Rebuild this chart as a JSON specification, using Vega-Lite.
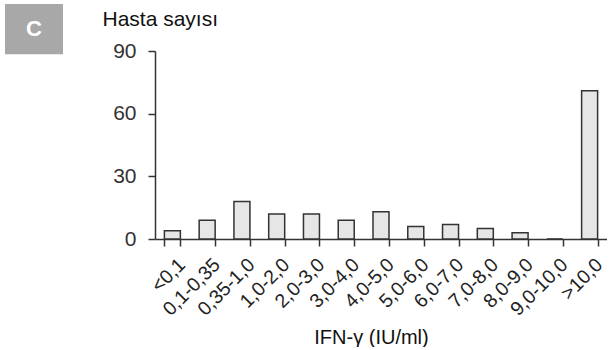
{
  "$schema": "https://vega.github.io/schema/vega-lite/v6.json",
  "padding": {"left": 5, "top": 4, "right": 0, "bottom": 0},
  "background": "white",
  "config": {
    "view": {"stroke": null},
    "font": "Liberation Sans",
    "concat": {"spacing": 39}
  },
  "hconcat": [
    {
      "width": 58,
      "height": 188,
      "data": {"values": [{"panel": "C"}]},
      "layer": [
        {
          "mark": {"type": "rect", "fill": "#a8a8a8", "clip": false},
          "encoding": {
            "y": {"datum": 88.5, "type": "quantitative", "scale": {"domain": [0, 90], "nice": false}, "axis": null},
            "y2": {"datum": 112.5}
          }
        },
        {
          "mark": {"type": "text", "color": "white", "fontSize": 22, "fontWeight": "bold", "font": "Liberation Sans", "baseline": "middle", "clip": false},
          "encoding": {
            "y": {"datum": 100.5, "type": "quantitative"},
            "text": {"field": "panel"}
          }
        }
      ]
    },
    {
      "width": 452,
      "height": 188,
      "data": {
        "values": [
          {"range": "<0,1", "count": 4},
          {"range": "0,1-0,35", "count": 9},
          {"range": "0,35-1,0", "count": 18},
          {"range": "1,0-2,0", "count": 12},
          {"range": "2,0-3,0", "count": 12},
          {"range": "3,0-4,0", "count": 9},
          {"range": "4,0-5,0", "count": 13},
          {"range": "5,0-6,0", "count": 6},
          {"range": "6,0-7,0", "count": 7},
          {"range": "7,0-8,0", "count": 5},
          {"range": "8,0-9,0", "count": 3},
          {"range": "9,0-10,0", "count": 0},
          {"range": ">10,0", "count": 71}
        ]
      },
      "mark": {"type": "bar", "fill": "#e6e6e6", "stroke": "#333333", "strokeWidth": 1.5},
      "encoding": {
        "x": {
          "field": "range",
          "type": "nominal",
          "sort": null,
          "scale": {"paddingInner": 0.54, "paddingOuter": 0.27},
          "axis": {
            "title": "IFN-γ (IU/ml)",
            "titleFontSize": 20,
            "titleFontWeight": "normal",
            "titleColor": "#111111",
            "titleX": 216,
            "titleY": 104,
            "titleAlign": "center",
            "titleBaseline": "alphabetic",
            "labelAngle": -45,
            "labelFontSize": 19.5,
            "labelColor": "#222222",
            "labelPadding": 9,
            "labelOffset": 3,
            "tickBand": "extent",
            "tickSize": 7,
            "tickWidth": 1.5,
            "tickColor": "#333333",
            "domainColor": "#333333",
            "domainWidth": 1.5,
            "grid": false
          }
        },
        "y": {
          "field": "count",
          "type": "quantitative",
          "scale": {"domain": [0, 90], "nice": false},
          "axis": {
            "values": [0, 30, 60, 90],
            "title": "Hasta sayısı",
            "titleAngle": 0,
            "titleFontSize": 21,
            "titleFontWeight": "normal",
            "titleColor": "#111111",
            "titleAlign": "left",
            "titleBaseline": "alphabetic",
            "titleX": -53,
            "titleY": -26,
            "labelFontSize": 21,
            "labelColor": "#333333",
            "labelPadding": 12,
            "tickSize": 7,
            "tickWidth": 1.5,
            "tickColor": "#333333",
            "domainColor": "#333333",
            "domainWidth": 1.5,
            "grid": false
          }
        }
      },
      "resolve": {"scale": {"y": "independent"}}
    }
  ],
  "resolve": {"scale": {"y": "independent"}}
}
